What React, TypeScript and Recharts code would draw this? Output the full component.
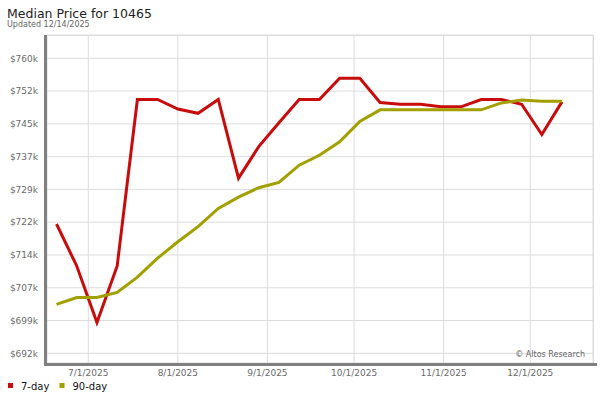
import React from 'react';
import { LineChart, Line, XAxis, YAxis, CartesianGrid } from 'recharts';

const dates = [
  '2025-06-20', '2025-06-27', '2025-07-04', '2025-07-11', '2025-07-18', '2025-07-25',
  '2025-08-01', '2025-08-08', '2025-08-15', '2025-08-22', '2025-08-29', '2025-09-05',
  '2025-09-12', '2025-09-19', '2025-09-26', '2025-10-03', '2025-10-10', '2025-10-17',
  '2025-10-24', '2025-10-31', '2025-11-07', '2025-11-14', '2025-11-21', '2025-11-28',
  '2025-12-05', '2025-12-12',
];

const sevenDay = [
  721900, 712200, 699100, 712200, 750700, 750700, 748500, 747500, 750700, 732500,
  739800, 745300, 750700, 750700, 755600, 755600, 750000, 749600, 749600, 749000,
  749000, 750700, 750700, 749600, 742600, 750200,
];

const ninetyDay = [
  703300, 704900, 704900, 706100, 709600, 714000, 717800, 721300, 725500, 728100,
  730300, 731500, 735500, 737800, 740900, 745600, 748300, 748300, 748300, 748300,
  748300, 748300, 749900, 750600, 750300, 750300,
];

const monthTicks = ['2025-07-01', '2025-08-01', '2025-09-01', '2025-10-01', '2025-11-01', '2025-12-01'];

const yTicks = [692000, 699580, 707160, 714740, 722320, 729900, 737480, 745060, 752640, 760220];

const seriesInfo = [
  { key: 'd7', name: '7-day', color: '#c80c0c' },
  { key: 'd90', name: '90-day', color: '#a29f00' },
];

const ts = (s: string) => Date.parse(s + 'T00:00:00Z');

const data = dates.map((d, i) => ({ t: ts(d), d7: sevenDay[i], d90: ninetyDay[i] }));

const fmtDate = (v: number) => {
  const d = new Date(v);
  return `${d.getUTCMonth() + 1}/${d.getUTCDate()}/${d.getUTCFullYear()}`;
};
const fmtPrice = (v: number) => `$${Math.floor(v / 1000)}k`;

const FONT = '"DejaVu Sans", Verdana, sans-serif';

export default function App() {
  return (
    <div style={{ position: 'absolute', left: 0, top: 0, width: 600, height: 400, background: '#fff', fontFamily: FONT }}>
      <LineChart
        width={600}
        height={400}
        data={data}
        margin={{ top: 35, right: 7, bottom: 0, left: 0 }}
      >
        <CartesianGrid stroke="#dcdcdc" strokeWidth={1} />
        <XAxis
          dataKey="t"
          type="number"
          scale="time"
          domain={[Date.UTC(2025, 5, 16, 17), Date.UTC(2025, 11, 22, 17)]}
          allowDataOverflow
          ticks={monthTicks.map(ts)}
          tickFormatter={fmtDate}
          height={37}
          axisLine={false}
          tickLine={false}
          tickSize={0}
          tickMargin={7}
          tick={{ fill: '#6a6a6a', fontSize: 9, fontFamily: FONT }}
          interval={0}
        />
        <YAxis
          type="number"
          domain={[689760, 765610]}
          allowDataOverflow
          ticks={yTicks}
          tickFormatter={fmtPrice}
          width={47}
          axisLine={false}
          tickLine={false}
          tickSize={0}
          tickMargin={9}
          tick={{ fill: '#6a6a6a', fontSize: 9, fontFamily: FONT }}
          interval={0}
        />
        {seriesInfo.map((s) => (
          <Line
            key={s.key}
            type="linear"
            dataKey={s.key}
            name={s.name}
            stroke={s.color}
            strokeWidth={3}
            dot={false}
            activeDot={false}
            isAnimationActive={false}
          />
        ))}
      </LineChart>
      <svg width={600} height={400} style={{ position: 'absolute', left: 0, top: 0, pointerEvents: 'none' }}>
        <text x={7} y={18.3} fontSize={12.5} fill="#222" fontFamily={FONT}>Median Price for 10465</text>
        <text x={7} y={27.3} fontSize={8} fill="#666" fontFamily={FONT}>Updated 12/14/2025</text>
        <line x1={47} y1={35.5} x2={593} y2={35.5} stroke="#dcdcdc" strokeWidth={1} />
        <line x1={593.5} y1={35} x2={593.5} y2={363} stroke="#dcdcdc" strokeWidth={1} />
        <rect x={44} y={35} width={3} height={331} fill="#808080" />
        <rect x={44} y={363} width={553} height={3} fill="#808080" />
        <text x={585} y={356.5} fontSize={8} fill="#666" textAnchor="end" fontFamily={FONT}>© Altos Research</text>
        {seriesInfo.map((s, i) => (
          <g key={s.key}>
            <rect x={8 + i * 51.5} y={383} width={5} height={5} fill={s.color} />
            <text x={21 + i * 51.5} y={390} fontSize={10} fill="#111" fontFamily={FONT}>{s.name}</text>
          </g>
        ))}
      </svg>
    </div>
  );
}
